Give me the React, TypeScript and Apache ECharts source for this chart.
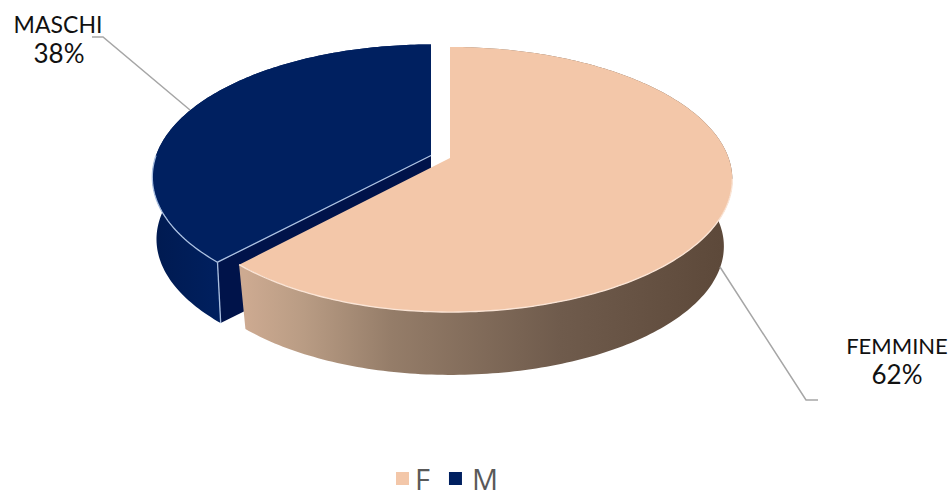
import React, { useEffect, useRef } from "react";
import * as echarts from "echarts";

const sliceNames = ["F", "M"];
const sliceLabels = ["FEMMINE", "MASCHI"];
const sliceValues = [62, 38];
const sliceColors = ["#f3c7a9", "#002060"];

const ax = 450, ay = 158, persp = 0.1623, yFar = -103.4, yBase = 158;
const shrinks = [0.97, 0.985];
const radii = [278.6, 275];
const leftFactor = [0.975, 1];
const drops = [67.5, 62.5];
const offsets = [[0, 0], [-19, -2.5]];
const legendTextGaps = [1, 5];
const total = sliceValues.reduce((a, b) => a + b, 0);

function rim(theta: number, index: number, bottom: boolean): number[] {
  const off = offsets[index];
  const u = Math.sin(theta), v = Math.cos(theta), d = 1 + persp * v;
  const r = radii[index] * (u < 0 ? leftFactor[index] : 1);
  const dx = (r * u) / d;
  const dy = (yFar * v + yBase) / d - yBase;
  const k = bottom ? shrinks[index] : 1;
  return [ax + off[0] + dx * k, ay + off[1] + dy * k + (bottom ? drops[index] : 0)];
}

function arc(a0: number, a1: number, index: number, bottom: boolean) {
  const pts: number[][] = [];
  const n = Math.ceil(Math.abs(a1 - a0) / (Math.PI / 180));
  for (let i = 0; i <= n; i++) pts.push(rim(a0 + ((a1 - a0) * i) / n, index, bottom));
  return pts;
}

const lg = (stops: [number, string][], x0: number, x1: number) =>
  new echarts.graphic.LinearGradient(x0, 0, x1, 0, stops.map(([offset, color]) => ({ offset, color })), true);

const textEl = (text: string, x: number, y: number, size: number) => ({
  type: "text",
  silent: true,
  style: {
    text, x, y,
    fill: "#111111",
    font: `${size}px Lato`,
    textAlign: "center",
    textVerticalAlign: "middle",
  },
});

const leader = (points: number[][]) => ({
  type: "polyline",
  silent: true,
  shape: { points },
  style: { stroke: "#a6a6a6", lineWidth: 1.5, fill: "none" },
});

const edge = (points: number[][], stroke: string, lineWidth: number) => ({
  type: "polyline",
  silent: true,
  shape: { points },
  style: { stroke, lineWidth, fill: "none" },
});

function renderSlice(index: number) {
  return (_p: any, api: any) => {
    const value = api.value(0);
    let before = 0;
    for (let i = 0; i < index; i++) before += sliceValues[i];
    const a0 = (before / total) * Math.PI * 2;
    const a1 = ((before + value) / total) * Math.PI * 2;
    const off = offsets[index];
    const topArc = arc(a0, a1, index, false);
    const botArc = arc(a0, a1, index, true);
    const apexT = [ax + off[0], ay + off[1]];
    const apexB = [apexT[0], apexT[1] + drops[index]];
    const children: any[] = [];
    const pct = `${value}%`;
    if (index === 1) {
      const corner = topArc[0], cornerB = botArc[0];
      children.push({
        type: "polygon",
        shape: { points: [...topArc, ...botArc.slice().reverse()] },
        style: { fill: lg([[0, "#001a50"], [1, "#002060"]], 150, 225) },
      });
      children.push({
        type: "polygon",
        shape: { points: [corner, apexT, apexB, cornerB] },
        style: { fill: "#00134a" },
      });
      children.push(edge([corner, cornerB], "#a9bfe0", 1.3));
      children.push({
        type: "polygon",
        shape: { points: [apexT, ...topArc] },
        style: { fill: sliceColors[1] },
      });
      children.push(edge([apexT, corner, ...arc(a0, (3 * Math.PI) / 2, index, false)], "#a9bfe0", 1.3));
      children.push(leader([[92, 37], [103, 37], [190, 110]]));
      children.push(textEl(sliceLabels[index], 58, 24, 23));
      children.push(textEl(pct, 59, 53, 26));
    } else {
      children.push({
        type: "polygon",
        shape: { points: [...topArc, ...botArc.slice().reverse()] },
        style: {
          fill: lg([[0, "#cdaa91"], [0.12, "#b99c84"], [0.3, "#957d69"], [0.65, "#6f5b4c"], [1, "#5c4839"]], 245, 730),
        },
      });
      children.push({
        type: "polygon",
        shape: { points: [apexT, ...topArc] },
        style: { fill: sliceColors[0] },
      });
      children.push(edge(arc(Math.PI * 0.55, a1, index, false), "#fbe5d6", 1.3));
      children.push(leader([[720, 267], [806, 400], [818, 400]]));
      children.push(textEl(sliceLabels[index], 897, 345, 22));
      children.push(textEl(pct, 897, 374, 26));
    }
    return { type: "group", children };
  };
}

export default function App() {
  const ref = useRef<HTMLDivElement>(null);
  useEffect(() => {
    document.body.style.margin = "0";
    const chart = echarts.init(ref.current!, undefined, { renderer: "svg" });
    chart.setOption({
      animation: false,
      backgroundColor: "#ffffff",
      legend: {
        data: sliceNames.map((name, i) => ({
          name,
          textStyle: { padding: [0, 0, 0, legendTextGaps[i]] },
        })),
        left: 391,
        top: 459,
        icon: "rect",
        itemWidth: 13,
        itemHeight: 13,
        itemGap: 19,
        textStyle: { color: "#595959", fontSize: 29, fontFamily: "Open Sans" },
        selectedMode: false,
      },
      series: [1, 0].map((i) => ({
        type: "custom",
        name: sliceNames[i],
        coordinateSystem: "none",
        itemStyle: { color: sliceColors[i] },
        data: [[sliceValues[i]]],
        renderItem: renderSlice(i),
        silent: true,
      })),
    });
    return () => chart.dispose();
  }, []);
  return <div ref={ref} style={{ width: 952, height: 490 }} />;
}
